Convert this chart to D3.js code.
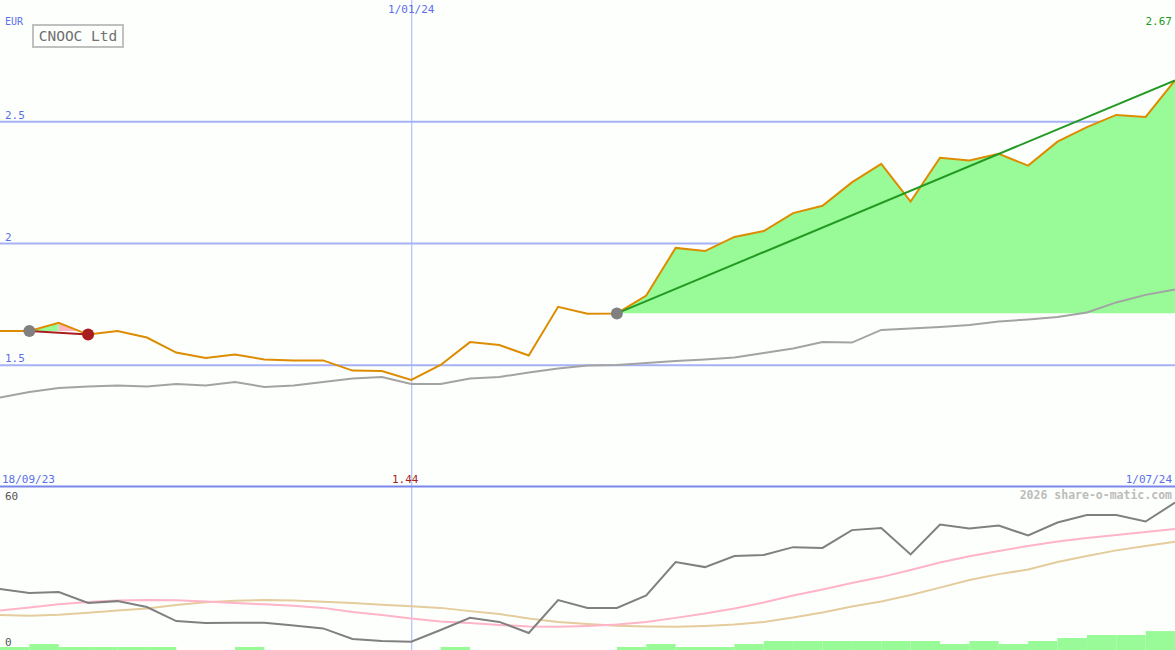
<!DOCTYPE html>
<html><head><meta charset="utf-8">
<script src="https://cdn.jsdelivr.net/npm/d3@7"></script>
<style>
html,body{margin:0;padding:0;background:#fdfffd;}
svg{display:block;}
text{font-family:"DejaVu Sans Mono",monospace;}
</style></head>
<body>
<svg id="c" width="1175" height="650"></svg>
<script>
// ---- data (weekly points, index 0..40) ----
const startLabel = "18/09/23";
const endLabel = "1/07/24";
const midLabel = "1/01/24";
const midIndex = 14;
const title = "CNOOC Ltd";
const currency = "EUR";
const priceTicks = [1.5, 2, 2.5];
const lowerTicks = [0, 60];
const price = [1.641,1.641,1.674,1.626,1.641,1.614,1.552,1.530,1.544,1.524,1.520,1.520,1.478,1.476,1.440,1.501,1.595,1.583,1.540,1.740,1.712,1.713,1.786,1.982,1.969,2.027,2.051,2.125,2.155,2.251,2.327,2.172,2.352,2.341,2.368,2.320,2.418,2.478,2.528,2.520,2.670];
const movingAvg = [1.368,1.390,1.407,1.413,1.417,1.413,1.423,1.417,1.431,1.411,1.417,1.431,1.446,1.452,1.423,1.423,1.446,1.452,1.470,1.487,1.499,1.501,1.509,1.517,1.524,1.532,1.550,1.569,1.595,1.593,1.645,1.651,1.657,1.665,1.680,1.688,1.698,1.717,1.758,1.789,1.811];
const oscFast = [22.6,21.1,21.5,17.4,18.1,15.9,10.7,10.0,10.1,10.1,9.1,8.0,4.1,3.3,3.1,7.4,11.9,10.4,6.3,18.5,15.6,15.6,20.2,32.6,30.7,34.8,35.2,38.1,37.8,44.4,45.2,35.4,46.5,45.0,46.1,42.4,47.2,50.0,50.0,47.6,54.6];
const oscPink = [14.6,15.7,16.9,17.8,18.3,18.5,18.4,18.0,17.4,16.9,16.4,15.6,14.1,13.0,11.7,10.6,10.0,9.3,8.7,8.6,8.9,9.4,10.4,11.9,13.5,15.4,17.6,20.2,22.4,24.8,27.0,29.6,32.4,34.7,36.7,38.5,40.2,41.5,42.6,43.7,44.8];
const oscTan = [13.0,12.7,13.1,13.8,14.6,15.4,16.7,17.7,18.2,18.5,18.3,17.9,17.4,16.8,16.2,15.6,14.4,13.3,11.7,10.4,9.6,9.0,8.7,8.6,8.9,9.4,10.4,12.0,13.9,16.1,18.0,20.4,23.1,25.9,28.1,29.8,32.6,34.8,36.9,38.5,40.1];
const volume = [10,20,10,10,10,10,0,0,10,0,0,0,0,0,0,10,0,0,0,0,0,10,20,10,10,20,30,30,30,30,30,30,20,30,20,30,40,50,50,63];
const trends = [{from:1, to:3}, {from:21, to:40}];

// ---- layout ----
const W = 1175, H = 650, splitY = 487;
const svg = d3.select("#c");
const x = d3.scaleLinear().domain([0, price.length - 1]).range([0, W]);
const y = d3.scaleLinear().domain([1, 3]).range([splitY, 0]);
const yl = d3.scaleLinear().domain([0, 60]).range([H, 488]);
const vh = d3.scaleLinear().domain([0, 100]).range([0, 30]);

const blue = "#5b6fe9";
svg.append("rect").attr("width", W).attr("height", H).attr("fill", "#fdfffd");

// clip for top panel
const defs = svg.append("defs");

// grid
svg.append("g").selectAll("line").data(priceTicks).join("line")
  .attr("x1", 0).attr("x2", W).attr("y1", d => y(d)).attr("y2", d => y(d))
  .attr("stroke", "#a6b2f4").attr("stroke-width", 2);
svg.append("line").attr("x1", x(midIndex)+0.5).attr("x2", x(midIndex)+0.5).attr("y1", 0).attr("y2", H)
  .attr("stroke", "#a4b0fa").attr("stroke-width", 1);

// trend fills
trends.forEach((t, k) => {
  const base = price[t.from];
  let imax = t.from;
  for (let i = t.from; i <= t.to; i++) if (price[i] > price[imax]) imax = i;
  const cid = "clipT" + k;
  defs.append("clipPath").attr("id", cid).append("rect")
    .attr("x", 0).attr("y", 0).attr("width", W).attr("height", y(base));
  const area = d3.area().x(d => x(d)).y0(y(base)).y1(d => y(price[d]));
  const segA = d3.range(t.from, imax + 1);
  const segB = d3.range(imax, t.to + 1);
  const g = svg.append("g").attr("clip-path", `url(#${cid})`);
  if (segA.length > 1) g.append("path").attr("d", area(segA)).attr("fill", "#98fb98");
  if (segB.length > 1) g.append("path").attr("d", area(segB)).attr("fill", "#ffb6c1");
});

// moving average
svg.append("path").datum(movingAvg)
  .attr("d", d3.line().x((d, i) => x(i)).y(d => y(d)))
  .attr("fill", "none").attr("stroke", "#a3a3a3").attr("stroke-width", 2);

// price
svg.append("path").datum(price)
  .attr("d", d3.line().x((d, i) => x(i)).y(d => y(d)))
  .attr("fill", "none").attr("stroke", "#dd8c00").attr("stroke-width", 2);

// trend lines & markers
trends.forEach(t => {
  const up = price[t.to] >= price[t.from];
  const col = up ? "#229a22" : "#a81e1e";
  svg.append("line").attr("x1", x(t.from)).attr("y1", y(price[t.from]))
    .attr("x2", x(t.to)).attr("y2", y(price[t.to]))
    .attr("stroke", col).attr("stroke-width", 2);
  svg.append("circle").attr("cx", x(t.from)).attr("cy", y(price[t.from])).attr("r", 6).attr("fill", "#808080");
  if (!up) svg.append("circle").attr("cx", x(t.to)).attr("cy", y(price[t.to])).attr("r", 6).attr("fill", "#a81e1e");
});

// separator
svg.append("line").attr("x1", 0).attr("x2", W).attr("y1", splitY - 0.5).attr("y2", splitY - 0.5)
  .attr("stroke", "#7a88ee").attr("stroke-width", 2);

// volume bars
svg.append("g").selectAll("rect").data(volume).join("rect")
  .attr("x", (d, i) => x(i)).attr("width", (d, i) => x(i + 1) - x(i))
  .attr("y", d => H - vh(d)).attr("height", d => vh(d)).attr("fill", "#98fb98");

// lower lines
const ll = d3.line().x((d, i) => x(i)).y(d => yl(d));
svg.append("path").datum(oscTan).attr("d", ll).attr("fill", "none").attr("stroke", "#e4cc9c").attr("stroke-width", 2);
svg.append("path").datum(oscPink).attr("d", ll).attr("fill", "none").attr("stroke", "#ffb4c8").attr("stroke-width", 2);
svg.append("path").datum(oscFast).attr("d", ll).attr("fill", "none").attr("stroke", "#808080").attr("stroke-width", 2);

// texts
const T = (tx, ty, s, col, size, anchor) => svg.append("text").attr("x", tx).attr("y", ty)
  .attr("fill", col).attr("font-size", size).attr("text-anchor", anchor || "start").text(s);
T(5, 25, currency, blue, 10);
priceTicks.forEach(v => T(5, y(v) - 3, d3.format("")(v), blue, 11));
T(x(midIndex), 13, midLabel, blue, 11, "middle");
T(1172, 25, d3.format(".2f")(price[price.length - 1]), "#229a22", 11, "end");
T(2, 483, startLabel, blue, 11);
T(1172, 483, endLabel, blue, 11, "end");
T(x(d3.minIndex(price)) - 6, 483, d3.format(".2f")(d3.min(price)), "#a81e1e", 11, "middle");
T(1172, 499, "2026 share-o-matic.com", "#bcbcbc", 11.5, "end").attr("font-weight", "bold");
T(5, 500, String(lowerTicks[1]), "#555", 11);
T(5, 646, String(lowerTicks[0]), "#555", 11);

// title box
svg.append("rect").attr("x", 33).attr("y", 25).attr("width", 90).attr("height", 22)
  .attr("fill", "#fdfffd").attr("stroke", "#c0c0c0").attr("stroke-width", 2);
T(78, 41, title, "#707070", 14.5, "middle");
</script>
</body></html>
